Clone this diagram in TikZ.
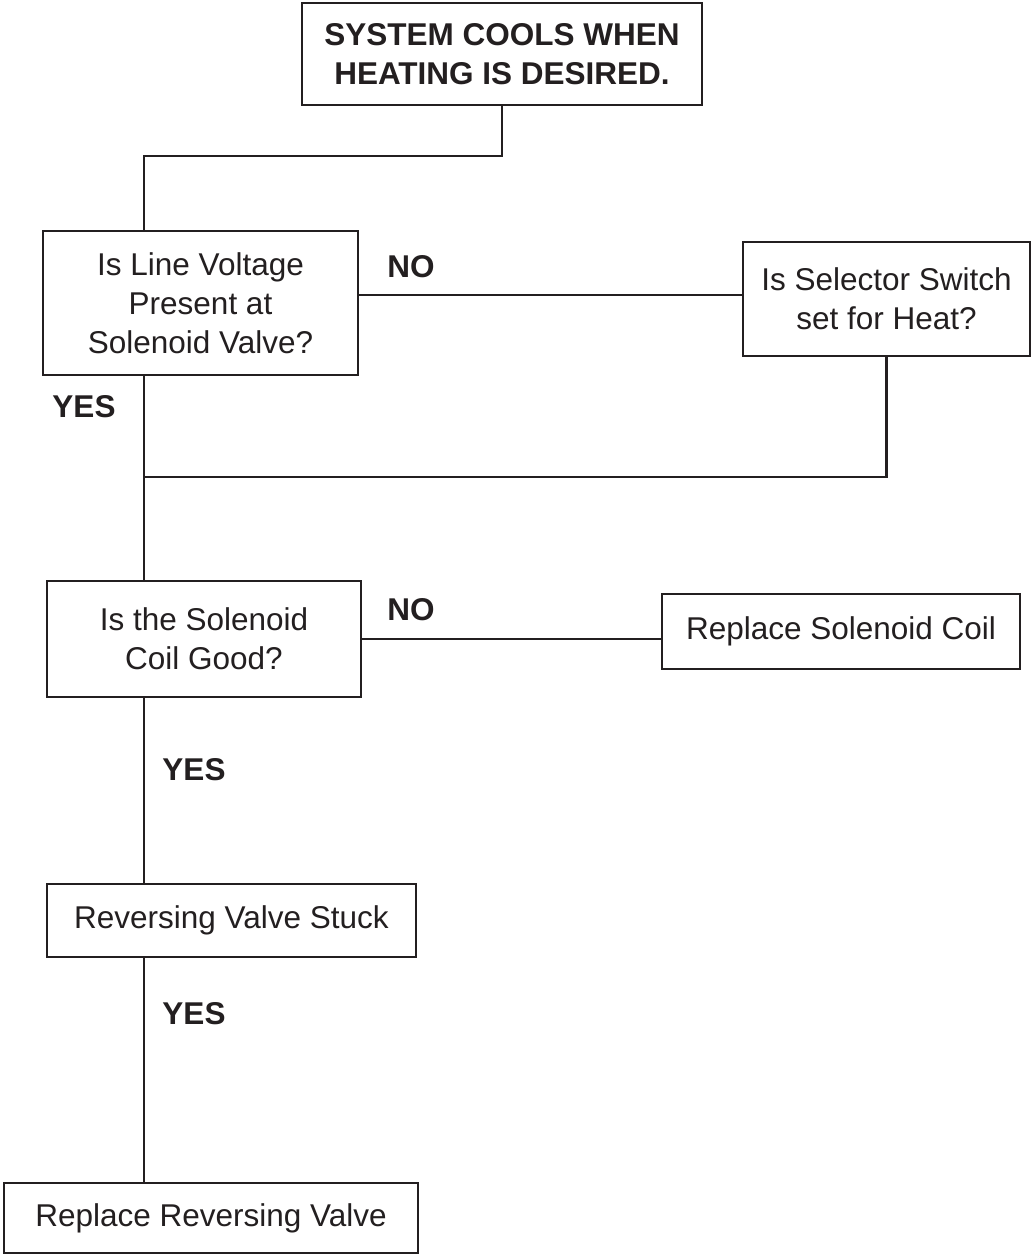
\documentclass[tikz,border=0pt]{standalone}
\usepackage{fontspec}
\setmainfont{Liberation Sans}
\usetikzlibrary{positioning,calc}
\definecolor{ink}{HTML}{231F20}
\tikzset{
  every node/.style={text=ink},
  box/.style={draw=ink,line width=2.6pt,fill=white,align=center,inner sep=0pt,font=\fontsize{31.5}{39}\selectfont},
  headbox/.style={box,font=\fontsize{31.5}{39}\selectfont\bfseries},
  link/.style={draw=ink,line width=2.6pt},
  answer/.style={font=\fontsize{31.5}{39}\selectfont\bfseries,inner sep=0pt},
}

\begin{document}
\begin{tikzpicture}[x=1pt,y=-1pt]
\useasboundingbox (0,0) rectangle (1031,1257);

\node[headbox,minimum width=400pt,minimum height=102pt] (start) at (502,54) {SYSTEM COOLS WHEN\\HEATING IS DESIRED.};
\node[box,minimum width=315pt,minimum height=144pt] (voltage) at (200.5,303) {Is Line Voltage\\Present at\\Solenoid Valve?};
\node[box,minimum width=287pt,minimum height=114pt] (selector) at (886.5,299) {Is Selector Switch\\set for Heat?};
\node[box,minimum width=314pt,minimum height=116pt] (coil) at (204,639) {Is the Solenoid\\Coil Good?};
\node[box,minimum width=358pt,minimum height=75pt] (newcoil) at (841,631.5) {Replace Solenoid Coil};
\node[box,minimum width=369pt,minimum height=73pt] (stuck) at (231.5,920.5) {Reversing Valve Stuck};
\node[box,minimum width=414pt,minimum height=70pt] (newvalve) at (211,1218) {Replace Reversing Valve};

% trunk line and junctions
\coordinate (trunk) at (144,0);
\coordinate (bend) at (144,156);
\coordinate (join) at (144,477);
\coordinate (nowire) at (0,295);

\draw[link] (start.south) -- (start.south |- bend) -- (bend) -- (bend |- voltage.north);
\draw[link] (voltage.east |- nowire) -- (selector.west |- nowire);
\draw[link] (selector.south) |- (join);
\draw[link] (voltage.south -| trunk) -- (coil.north -| trunk);
\draw[link] (coil.east) -- (newcoil.west |- coil.east);
\draw[link] (coil.south -| trunk) -- (stuck.north -| trunk);
\draw[link] (stuck.south -| trunk) -- (newvalve.north -| trunk);

\node[answer] (no1) at (411,267) {NO};
\node[answer] (yes1) at (84,407) {YES};
\node[answer] (no2) at (411,610) {NO};
\node[answer] (yes2) at (194,770) {YES};
\node[answer] (yes3) at (194,1014) {YES};

\end{tikzpicture}
\end{document}
